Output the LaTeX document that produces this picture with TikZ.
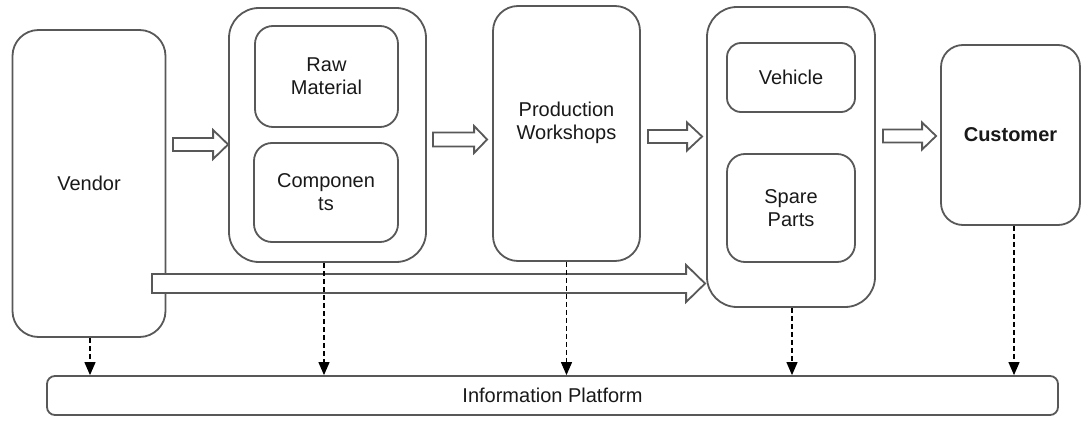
\documentclass[tikz,border=0pt]{standalone}
\usepackage{fontspec}
\setmainfont{Liberation Sans}
\usetikzlibrary{arrows.meta,calc}
\definecolor{linegray}{RGB}{88,88,88}
\definecolor{txtcol}{RGB}{25,25,25}
\newcommand\hollowarrow[5]{%
  \draw[blockarrow] ($(#1)+(0,#3)$) -- ($(#2)+(-#5,#3)$) -- ($(#2)+(-#5,#4)$) -- (#2)
    -- ($(#2)+(-#5,-#4)$) -- ($(#2)+(-#5,-#3)$) -- ($(#1)+(0,-#3)$) -- cycle;}
\begin{document}
\begin{tikzpicture}[x=1pt,y=-1pt,
  box/.style={draw=linegray,line width=1.8pt,fill=white,rectangle,inner sep=0pt,
    align=center,text=txtcol,font=\fontsize{20}{23}\selectfont},
  blockarrow/.style={draw=linegray,line width=1.8pt,fill=white,line join=miter},
  dasharrow/.style={draw=black,line width=1.2pt,dash pattern=on 5pt off 3pt,
    -{Triangle[length=13pt,width=11pt]}},
  txt/.style={inner sep=0pt,align=center,text=txtcol,font=\fontsize{20}{23}\selectfont}]
\useasboundingbox (0,0) rectangle (1082,425);

\node[box,minimum width=153pt,minimum height=307pt,rounded corners=26pt] (vendor) at (89,183.5) {Vendor};
\node[box,minimum width=197pt,minimum height=254pt,rounded corners=30pt] (g1) at (327.5,135) {};
\node[box,minimum width=143pt,minimum height=101pt,rounded corners=18pt] (raw) at (326.5,76.5) {Raw\\Material};
\node[box,minimum width=144pt,minimum height=99pt,rounded corners=18pt] (comp) at (326,192.5) {Componen\\ts};
\node[box,minimum width=147pt,minimum height=255pt,rounded corners=25pt] (prod) at (566.5,133.5) {};
\node[txt] (prodtxt) at ([yshift=11pt]prod.center) {Production\\Workshops};
\node[box,minimum width=168pt,minimum height=300pt,rounded corners=30pt] (g2) at (791,157) {};
\node[box,minimum width=128pt,minimum height=69pt,rounded corners=14pt] (veh) at (791,77.5) {Vehicle};
\node[box,minimum width=128pt,minimum height=108pt,rounded corners=18pt] (spare) at (791,208) {Spare\\Parts};
\node[box,minimum width=139pt,minimum height=180pt,rounded corners=22pt,font=\fontsize{20}{23}\selectfont\bfseries] (cust) at (1010.5,135) {Customer};
\node[box,minimum width=1011pt,minimum height=39pt,rounded corners=8pt] (info) at (552.5,395.5) {Information Platform};

% horizontal levels of the block arrows
\coordinate (ya) at (0,144.5);
\coordinate (yb) at (0,139.5);
\coordinate (yc) at (0,136.5);
\coordinate (yd) at (0,136);
\coordinate (ye) at (0,283.5);

\coordinate (a1s) at ([xshift=6.5pt]vendor.east |- ya);
\coordinate (a1e) at (g1.west |- ya);
\coordinate (a2s) at ([xshift=6pt]g1.east |- yb);
\coordinate (a2e) at ([xshift=-5pt]prod.west |- yb);
\coordinate (a3s) at ([xshift=7pt]prod.east |- yc);
\coordinate (a3e) at ([xshift=-4pt]g2.west |- yc);
\coordinate (a4s) at ([xshift=7pt]g2.east |- yd);
\coordinate (a4e) at ([xshift=-4pt]cust.west |- yd);
\coordinate (a5s) at ([xshift=-14.5pt]vendor.east |- ye);
\coordinate (a5e) at ([xshift=-1pt]g2.west |- ye);

\hollowarrow{a1s}{a1e}{6.5}{14.5}{15}
\hollowarrow{a2s}{a2e}{7}{13.5}{13}
\hollowarrow{a3s}{a3e}{6.5}{14}{15}
\hollowarrow{a4s}{a4e}{6.5}{13.5}{14}
\hollowarrow{a5s}{a5e}{9.5}{18.5}{19}

\draw[dasharrow] ([xshift=1pt]vendor.south) -- ([xshift=1pt]vendor.south |- info.north);
\draw[dasharrow] ([xshift=-3.5pt]g1.south) -- ([xshift=-3.5pt]g1.south |- info.north);
\draw[dasharrow] (prod.south) -- (prod.south |- info.north);
\draw[dasharrow] ([xshift=1pt]g2.south) -- ([xshift=1pt]g2.south |- info.north);
\draw[dasharrow] ([xshift=3.5pt]cust.south) -- ([xshift=3.5pt]cust.south |- info.north);
\end{tikzpicture}
\end{document}
